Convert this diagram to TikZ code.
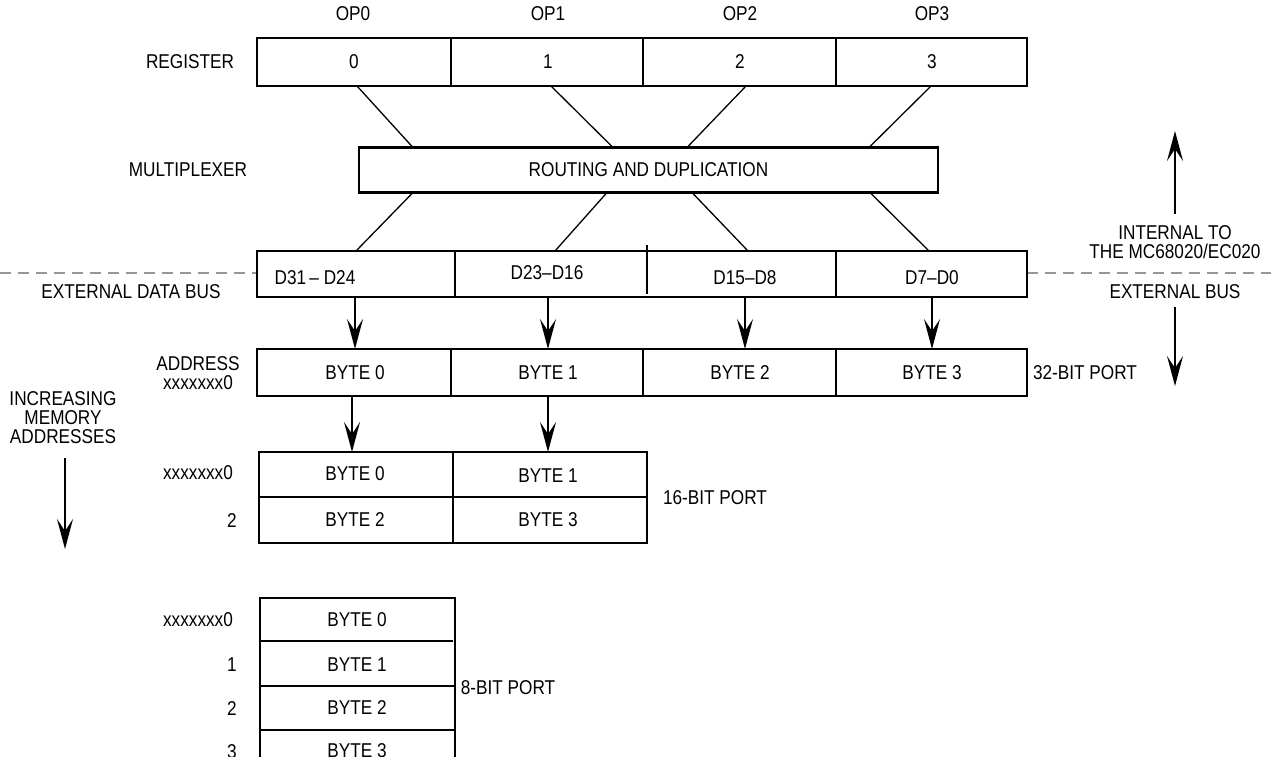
\documentclass[tikz,border=0pt]{standalone}
\usepackage{fontspec}
\setmainfont{Liberation Sans}[FakeStretch=0.86]
\usetikzlibrary{arrows.meta}
\begin{document}
\begin{tikzpicture}[x=1pt,y=-1pt,
  every node/.style={font=\fontsize{20}{22}\selectfont, inner sep=0pt},
  box/.style={draw, line width=2.2pt, inner sep=0pt},
  div/.style={line width=1.2pt},
  conn/.style={line width=1.3pt},
  arr/.style={line width=1.3pt, -{Stealth[length=30pt, width=16pt, inset=12pt]}},
  bound/.style={line width=1.3pt, draw={rgb,255:red,150;green,150;blue,150}, dash pattern=on 11pt off 7pt}]
\useasboundingbox (0,0) rectangle (1271,756);
\clip (0,0) rectangle (1271,756);

% dashed boundary
\draw[bound] (0,273) -- (257,273);
\draw[bound] (1027,273) -- (1271,273);

% REGISTER
\node (op0) at (353,14) {OP0};
\node (op1) at (548,14) {OP1};
\node (op2) at (740,14) {OP2};
\node (op3) at (932,14) {OP3};
\node[box, minimum width=770, minimum height=48] (reg) at (642,62) {};
\draw[div] (451,38) -- (451,86) (643,38) -- (643,86) (836,38) -- (836,86);
\node (r0) at (354,62) {0};
\node (r1) at (548,62) {1};
\node (r2) at (740,62) {2};
\node (r3) at (932,62) {3};
\node (lreg) at (190,62) {REGISTER};

% MULTIPLEXER
\node[box, minimum width=579, minimum height=45] (mux) at (648.5,170) {ROUTING AND DUPLICATION};
\node (lmux) at (188,170) {MULTIPLEXER};
\coordinate (ra0) at (357,86);
\coordinate (ra1) at (551,86);
\coordinate (ra2) at (746,86);
\coordinate (ra3) at (931,86);
\coordinate (mt0) at (413,147.5);
\coordinate (mt1) at (613,147.5);
\coordinate (mt2) at (687,147.5);
\coordinate (mt3) at (869,147.5);
\draw[conn] (ra0) -- (mt0);
\draw[conn] (ra1) -- (mt1);
\draw[conn] (ra2) -- (mt2);
\draw[conn] (ra3) -- (mt3);
\coordinate (mb0) at (413,192.5);
\coordinate (mb1) at (607,192.5);
\coordinate (mb2) at (692,192.5);
\coordinate (mb3) at (870,192.5);
\coordinate (dt0) at (356,251);
\coordinate (dt1) at (555,251);
\coordinate (dt2) at (748,251);
\coordinate (dt3) at (929,251);
\draw[conn] (mb0) -- (dt0);
\draw[conn] (mb1) -- (dt1);
\draw[conn] (mb2) -- (dt2);
\draw[conn] (mb3) -- (dt3);

% DATA BUS
\node[box, minimum width=770, minimum height=46] (bus) at (642,274) {};
\draw[div] (455,251) -- (455,297) (647,245) -- (647,294) (836,251) -- (836,297);
\node (d0) at (315,278) {D31\,– D24};
\node (d1) at (547,273) {D23–D16};
\node (d2) at (745,278) {D15–D8};
\node (d3) at (932,278) {D7–D0};
\node (lbus) at (131,292) {EXTERNAL DATA BUS};

% 32-BIT PORT
\node[box, minimum width=770, minimum height=47] (p32) at (642,372.5) {};
\draw[div] (451,349) -- (451,396) (643,349) -- (643,396) (836,349) -- (836,396);
\node (b0) at (355,373) {BYTE 0};
\node (b1) at (548,373) {BYTE 1};
\node (b2) at (740,373) {BYTE 2};
\node (b3) at (932,373) {BYTE 3};
\node[align=center] (laddr) at (198,373) {ADDRESS\\[-3pt]xxxxxxx0};
\node (l32) at (1085,373) {32-BIT PORT};
\draw[arr] (355,297) -- (355,349);
\draw[arr] (548,297) -- (548,349);
\draw[arr] (745,297) -- (745,349);
\draw[arr] (932,297) -- (932,349);

% 16-BIT PORT
\node[box, minimum width=388, minimum height=91] (p16) at (453,497.5) {};
\draw[div] (453,452) -- (453,543);
\draw[div] (259,497) -- (647,497);
\node (c0) at (355,474) {BYTE 0};
\node (c1) at (548,476) {BYTE 1};
\node (c2) at (355,520) {BYTE 2};
\node (c3) at (548,520) {BYTE 3};
\node (a16a) at (198,473) {xxxxxxx0};
\node (a16b) at (232,521) {2};
\node (l16) at (715,498) {16-BIT PORT};
\draw[arr] (352,396) -- (352,452);
\draw[arr] (548,396) -- (548,452);

% 8-BIT PORT
\draw[box] (260,800) -- (260,598) -- (455,598) -- (455,800);
\draw[div] (259,641) -- (453,641) (260,686) -- (455,686) (260,730) -- (455,730);
\node (e0) at (357,620) {BYTE 0};
\node (e1) at (357,665) {BYTE 1};
\node (e2) at (357,708) {BYTE 2};
\node (e3) at (357,751) {BYTE 3};
\node (a8a) at (198,620) {xxxxxxx0};
\node (a8b) at (232,665) {1};
\node (a8c) at (232,709) {2};
\node (a8d) at (232,752) {3};
\node (l8) at (508,688) {8-BIT PORT};

% increasing addresses
\node[align=center] (linc) at (63,418) {INCREASING\\[-3pt]MEMORY\\[-3pt]ADDRESSES};
\coordinate (incs) at (65,458);
\coordinate (ince) at (65,549);
\draw[arr] (incs) -- (ince);

% internal / external
\node[align=center] (lint) at (1175,242) {INTERNAL TO\\[-3pt]THE MC68020/EC020};
\node (lext) at (1175,292) {EXTERNAL BUS};
\coordinate (ups) at (1175,214);
\coordinate (upe) at (1175,131);
\coordinate (dns) at (1175,307);
\coordinate (dne) at (1175,386);
\draw[arr] (ups) -- (upe);
\draw[arr] (dns) -- (dne);
\end{tikzpicture}
\end{document}
